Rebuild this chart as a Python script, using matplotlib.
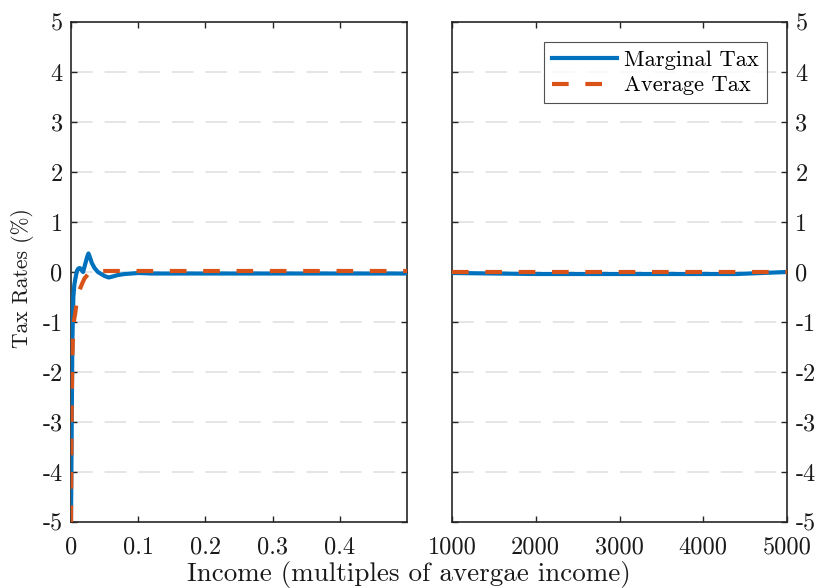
import matplotlib
matplotlib.use("Agg")
import matplotlib.pyplot as plt

plt.rcParams['font.family'] = ['cmr10', 'DejaVu Serif']
plt.rcParams['mathtext.fontset'] = 'cm'
plt.rcParams['axes.unicode_minus'] = False
plt.rcParams['axes.formatter.use_mathtext'] = True

# ---- data ----
x_left_marg = [0, 0.001, 0.002, 0.0035, 0.005, 0.007, 0.009, 0.011, 0.013, 0.015, 0.018,
               0.020, 0.022, 0.024, 0.026, 0.028, 0.031, 0.035, 0.040, 0.045, 0.050,
               0.056, 0.062, 0.070, 0.080, 0.090, 0.100, 0.12, 0.15, 0.2, 0.3, 0.4, 0.5]
marg_left = [-5.0, -3.2, -1.4, -0.5, -0.25, -0.1, 0.03, 0.07, 0.08, 0.05, 0.0,
             0.1, 0.2, 0.3, 0.37, 0.3, 0.18, 0.08, 0.0, -0.04, -0.08,
             -0.11, -0.09, -0.06, -0.04, -0.03, -0.02, -0.03, -0.03, -0.03, -0.03, -0.03, -0.03]

x_left_avg = [0, 0.0005, 0.001, 0.002, 0.003, 0.004, 0.006, 0.008, 0.010, 0.013,
              0.016, 0.020, 0.025, 0.030, 0.035, 0.045, 0.1, 0.2, 0.3, 0.4, 0.5]
avg_left = [-5.0, -3.6, -2.7, -1.7, -1.25, -1.0, -0.85, -0.65, -0.5, -0.35,
            -0.25, -0.13, -0.05, 0.0, 0.02, 0.02, 0.02, 0.02, 0.02, 0.02, 0.02]

x_right = [1000, 1500, 2000, 2500, 3000, 3500, 4000, 4400, 4700, 5000]
marg_right = [-0.02, -0.03, -0.04, -0.04, -0.04, -0.04, -0.04, -0.04, -0.02, 0.0]
avg_right = [0.01, 0.01, 0.01, 0.01, 0.01, 0.01, 0.01, 0.01, 0.01, 0.01]

yticks = [-5, -4, -3, -2, -1, 0, 1, 2, 3, 4, 5]
xticks_left = [0, 0.1, 0.2, 0.3, 0.4]
xticklabels_left = ['0', '0.1', '0.2', '0.3', '0.4']
xticks_right = [1000, 2000, 3000, 4000, 5000]

blue = '#0072BD'
orange = '#D95319'
spine_c = '#262626'

fig = plt.figure(figsize=(8.18, 5.88), dpi=100)
axL = fig.add_axes([71/818, 1-522/588, (407-71)/818, 500/588])
axR = fig.add_axes([452/818, 1-522/588, (787-452)/818, 500/588])

dash = (0, (4.0, 4.0))
for ax in (axL, axR):
    for y in yticks[1:-1]:
        ax.axhline(y, color='#dedede', lw=1.1, dashes=(14.2, 7.8), zorder=0)
    for s in ax.spines.values():
        s.set_color(spine_c)
        s.set_linewidth(1.2)
    ax.set_ylim(-5, 5)
    ax.set_yticks(yticks)
    ax.tick_params(direction='in', length=4.5, width=1.0, color=spine_c,
                   labelsize=17.5, top=True, right=True, left=True, bottom=True,
                   labelcolor='#1a1a1a')
    ax.tick_params(axis='x', pad=10)
    ax.tick_params(axis='y', pad=6)

axL.plot(x_left_marg, marg_left, color=blue, lw=3.0, label='Marginal Tax', zorder=3)
axL.plot(x_left_avg, avg_left, color=orange, lw=3.0, linestyle=dash, label='Average Tax', zorder=4)
axL.set_xlim(0, 0.5)
axL.set_xticks(xticks_left)
axL.set_xticklabels(xticklabels_left)
axL.set_yticklabels([str(v) for v in yticks])

axR.plot(x_right, marg_right, color=blue, lw=3.0, label='Marginal Tax', zorder=3)
axR.plot(x_right, avg_right, color=orange, lw=3.0, linestyle=dash, label='Average Tax', zorder=4)
axR.set_xlim(1000, 5000)
axR.set_xticks(xticks_right)
axR.set_xticklabels([str(v) for v in xticks_right])
axR.yaxis.tick_right()
axR.tick_params(axis='y', left=True, right=True, labelleft=False, labelright=True)
axR.set_yticklabels([str(v) for v in yticks])

leg = axR.legend(loc='upper right', fontsize=16.2, frameon=True, fancybox=False,
                 edgecolor=spine_c, handlelength=2.9, borderpad=0.35,
                 labelspacing=0.26, handletextpad=0.3, borderaxespad=0.9)
leg.get_frame().set_linewidth(0.8)

fig.text(22/818, 1-278/588, 'Tax Rates (%)', rotation=90, ha='center', va='center',
         fontsize=15.5, color='#1a1a1a')
fig.text(409/818, 1-581/588, 'Income (multiples of avergae income)',
         ha='center', va='baseline', fontsize=19.5, color='#1a1a1a')

fig.savefig('out.png', dpi=100)
